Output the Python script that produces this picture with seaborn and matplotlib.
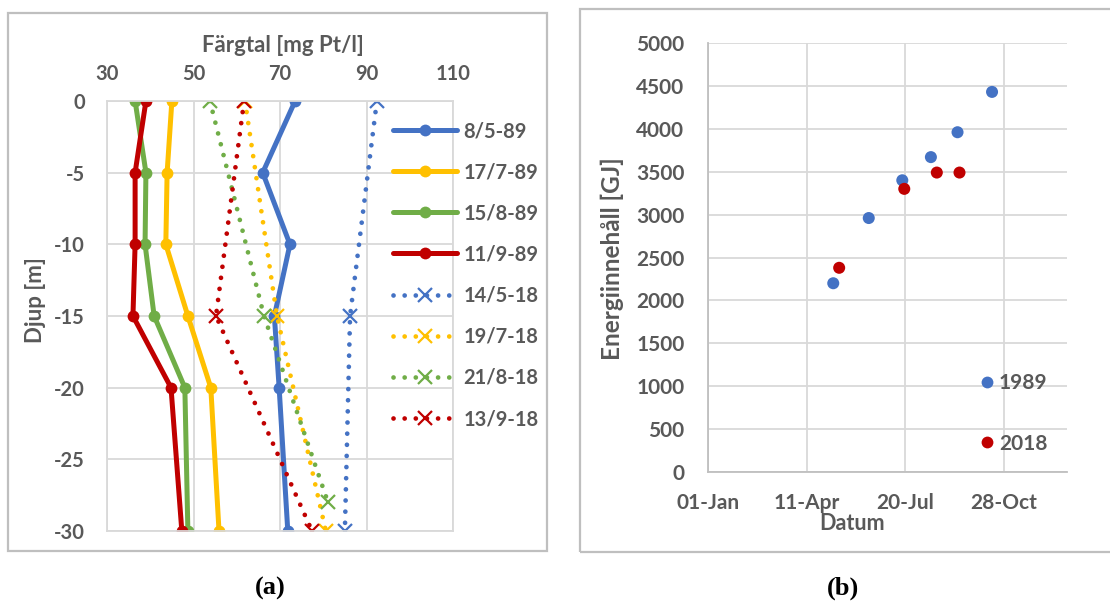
import numpy as np
import pandas as pd
import matplotlib
matplotlib.use("Agg")
import matplotlib.pyplot as plt
from matplotlib.patches import Rectangle
from matplotlib.lines import Line2D
import seaborn as sns

# ---------------- data ----------------
# (a) colour number profiles
depth_89 = [0, -5, -10, -15, -20, -30]
c_8_5_89 = [73.5, 66.0, 72.3, 68.7, 69.8, 71.8]
c_17_7_89 = [45.0, 43.9, 43.6, 48.7, 54.0, 55.9]
c_15_8_89 = [36.5, 39.0, 38.8, 40.9, 48.0, 48.7]
c_11_9_89 = [39.0, 36.5, 36.5, 36.0, 44.8, 47.3]

depth_14_5_18 = [0, -15, -30]
depth_19_7_18 = [0, -15, -30]
depth_21_8_18 = [0, -15, -28]
depth_13_9_18 = [0, -15, -30]
c_14_5_18 = [92.4, 86.2, 85.0]
c_19_7_18 = [61.9, 69.3, 80.6]
c_21_8_18 = [53.8, 66.3, 81.1]
c_13_9_18 = [61.7, 55.2, 77.4]

labels_a = ["8/5-89", "17/7-89", "15/8-89", "11/9-89",
            "14/5-18", "19/7-18", "21/8-18", "13/9-18"]
x_ticks_a = [30, 50, 70, 90, 110]
y_ticks_a = [0, -5, -10, -15, -20, -25, -30]

# (b) energy content (day of year)
day_1989 = [128, 164, 198, 227, 254, 289]
energy_1989 = [2200, 2960, 3400, 3670, 3960, 4430]
day_2018 = [134, 200, 233, 256]
energy_2018 = [2380, 3300, 3490, 3490]
x_ticks_b = [1, 101, 201, 301]
x_ticklabels_b = ["01-Jan", "11-Apr", "20-Jul", "28-Oct"]
y_ticks_b = list(range(0, 5001, 500))

# ---------------- style ----------------
sns.set_theme(style="white")
plt.rcParams['font.family'] = ['Lato', 'DejaVu Sans']
plt.rcParams['font.weight'] = 'bold'
plt.rcParams['axes.unicode_minus'] = False

TXT = '#595959'
GRID = '#D9D9D9'
FRAME = '#BFBFBF'
BLUE = '#4472C4'
YEL = '#FFC000'
GRN = '#70AD47'
RED = '#C00000'

W, H = 1110, 604
fig = plt.figure(figsize=(W / 100, H / 100), dpi=100)


def fax(l, t, r, b):
    return fig.add_axes([l / W, 1 - b / H, (r - l) / W, (b - t) / H])


fig.patches.append(Rectangle((8 / W, 1 - 551 / H), (547 - 8) / W, (551 - 13) / H,
                             transform=fig.transFigure, fill=False, ec=FRAME, lw=1.6))
fig.patches.append(Rectangle((580 / W, 1 - 552 / H), (1120 - 580) / W, (552 - 9) / H,
                             transform=fig.transFigure, fill=False, ec=FRAME, lw=1.6))

# ---------------- panel (a) ----------------
ax1 = fax(107, 101, 453, 531)
series = [
    (labels_a[0], c_8_5_89, depth_89, BLUE, True),
    (labels_a[1], c_17_7_89, depth_89, YEL, True),
    (labels_a[2], c_15_8_89, depth_89, GRN, True),
    (labels_a[3], c_11_9_89, depth_89, RED, True),
    (labels_a[4], c_14_5_18, depth_14_5_18, BLUE, False),
    (labels_a[5], c_19_7_18, depth_19_7_18, YEL, False),
    (labels_a[6], c_21_8_18, depth_21_8_18, GRN, False),
    (labels_a[7], c_13_9_18, depth_13_9_18, RED, False),
]
for name, xs, ds, col, solid in series:
    df = pd.DataFrame({"c": xs, "d": ds})
    if solid:
        sns.lineplot(data=df, x="c", y="d", ax=ax1, sort=False, orient="y",
                     estimator=None, color=col, lw=3.6, marker="o",
                     markersize=8.5, markeredgewidth=0, markeredgecolor=col,
                     solid_capstyle="round", solid_joinstyle="round", label=name)
    else:
        sns.lineplot(data=df, x="c", y="d", ax=ax1, sort=False, orient="y",
                     estimator=None, color=col, lw=3.4,
                     linestyle=(0, (0.01, 2.35)), dash_capstyle="round",
                     marker="x", markersize=9.5, markeredgewidth=1.6,
                     markeredgecolor=col, label=name)

ax1.set_xlim(30, 110)
ax1.set_ylim(-30, 0)
ax1.set_xticks(x_ticks_a)
ax1.set_xticklabels([str(v) for v in x_ticks_a])
ax1.set_yticks(y_ticks_a)
ax1.set_yticklabels([str(v) for v in y_ticks_a])
ax1.xaxis.tick_top()
ax1.xaxis.set_label_position("top")
ax1.tick_params(axis="x", length=0, pad=12, labelsize=14.5, labelcolor=TXT)
ax1.tick_params(axis="y", length=0, pad=16, labelsize=14.5, labelcolor=TXT)
ax1.grid(True, color=GRID, lw=1.3)
for s in ax1.spines.values():
    s.set_color(GRID)
    s.set_linewidth(1.3)
ax1.set_xlabel("Färgtal [mg Pt/l]", fontsize=16, color=TXT, fontweight="bold")
ax1.set_ylabel("Djup [m]", fontsize=16, color=TXT, fontweight="bold")
ax1.xaxis.set_label_coords((283 - 107) / 346, (531 - 45) / 430)
ax1.xaxis.label.set_va("center")
ax1.yaxis.set_label_coords((35 - 107) / 346, (531 - 300) / 430)
ax1.yaxis.label.set_va("center")

h, l = ax1.get_legend_handles_labels()
ax1.legend(h, l, loc="upper left", bbox_to_anchor=(393 / W, 1 - 121 / H),
           bbox_transform=fig.transFigure, frameon=False, handlelength=3.2,
           handletextpad=0.3, labelspacing=1.05, borderpad=0, borderaxespad=0,
           prop={"size": 14.5, "weight": "bold"}, labelcolor=TXT)

# ---------------- panel (b) ----------------
ax2 = fax(708, 43, 1067, 472)
df2 = pd.DataFrame({
    "day": day_1989 + day_2018,
    "energy": energy_1989 + energy_2018,
    "year": ["1989"] * len(day_1989) + ["2018"] * len(day_2018),
})
sns.scatterplot(data=df2, x="day", y="energy", hue="year",
                palette={"1989": BLUE, "2018": RED}, s=75, edgecolor="none",
                ax=ax2, zorder=3, legend=False)
ax2.set_xlim(1, 365)
ax2.set_ylim(0, 5000)
ax2.set_xticks(x_ticks_b)
ax2.set_xticklabels(x_ticklabels_b)
ax2.set_yticks(y_ticks_b)
ax2.set_yticklabels([str(v) for v in y_ticks_b])
ax2.tick_params(axis="x", length=0, pad=15, labelsize=15, labelcolor=TXT)
ax2.tick_params(axis="y", length=0, pad=17, labelsize=15, labelcolor=TXT)
ax2.grid(True, color=GRID, lw=1.3)
for k in ["top", "right"]:
    ax2.spines[k].set_visible(False)
for k in ["left", "bottom"]:
    ax2.spines[k].set_color(FRAME)
    ax2.spines[k].set_linewidth(1.3)
ax2.set_xlabel("Datum", fontsize=15.5, color=TXT, fontweight="bold")
ax2.set_ylabel("Energiinnehåll [GJ]", fontsize=17.5, color=TXT, fontweight="bold")
ax2.xaxis.set_label_coords((852 - 708) / 359, (472 - 523) / 429)
ax2.xaxis.label.set_va("center")
ax2.yaxis.set_label_coords((612 - 708) / 359, (472 - 259) / 429)
ax2.yaxis.label.set_va("center")

hb = [Line2D([], [], ls="", marker="o", markersize=8.5, color=BLUE, markeredgewidth=0),
      Line2D([], [], ls="", marker="o", markersize=8.5, color=RED, markeredgewidth=0)]
ax2.legend(hb, ["1989", "2018"], loc="upper left",
           bbox_to_anchor=(979 / W, 1 - 373 / H), bbox_transform=fig.transFigure,
           frameon=False, handlelength=0.8, handletextpad=0.15, labelspacing=1.95,
           borderpad=0, borderaxespad=0,
           prop={"size": 15, "weight": "bold"}, labelcolor=TXT)

# ---------------- sub-captions ----------------
fig.text(270 / W, 1 - 588 / H, "(a)", family="Liberation Serif", fontweight="bold",
         fontsize=19, ha="center", va="center", color="black")
fig.text(843 / W, 1 - 588 / H, "(b)", family="Liberation Serif", fontweight="bold",
         fontsize=19, ha="center", va="center", color="black")

fig.savefig("out.png", dpi=100)
